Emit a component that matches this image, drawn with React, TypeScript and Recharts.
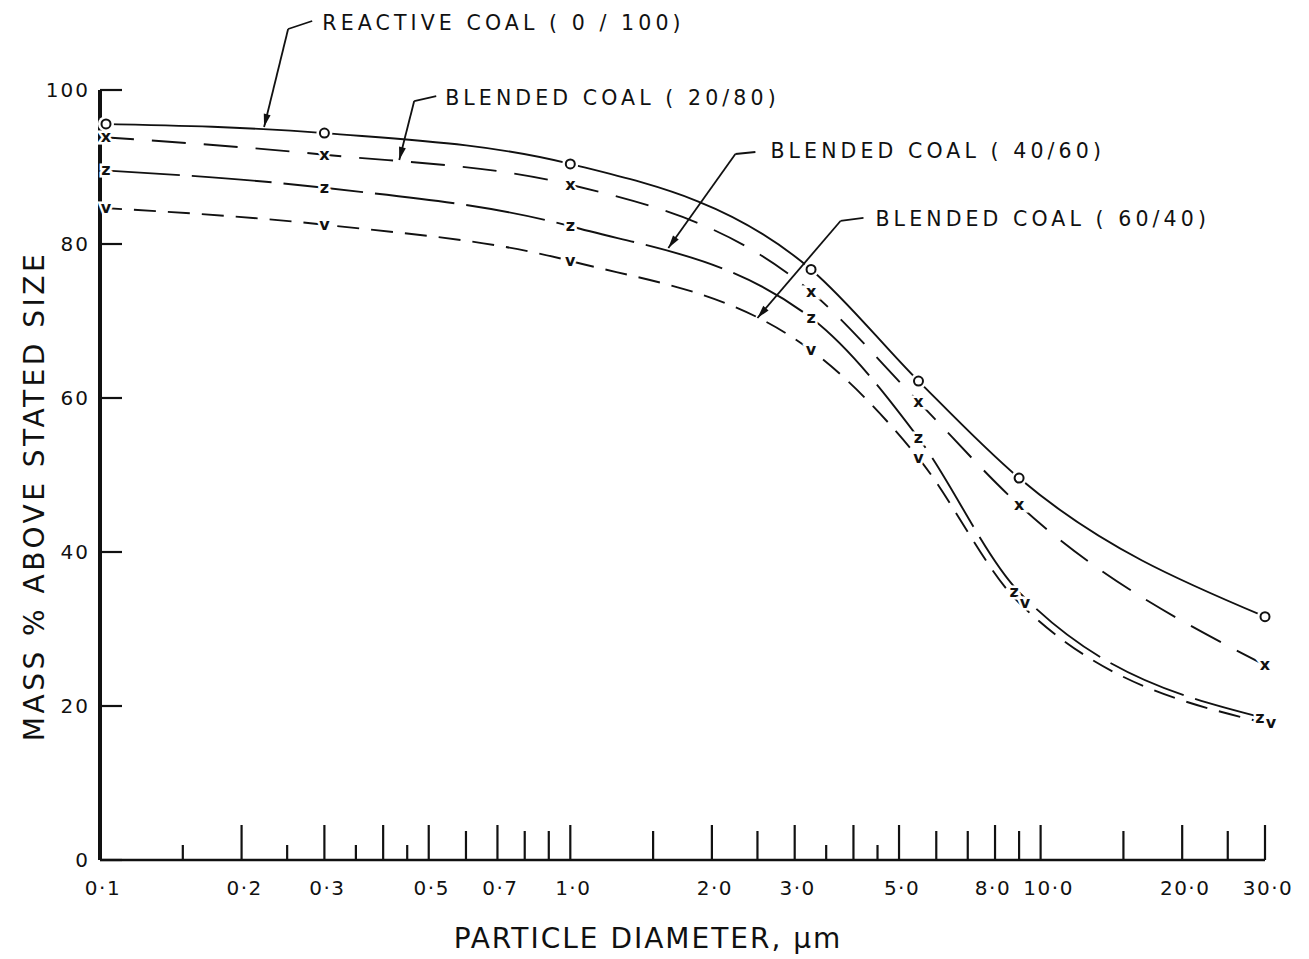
import React from 'react';
import { LineChart, Line, XAxis, YAxis, ReferenceLine, ReferenceDot } from 'recharts';

// particle diameter (µm) at the plotted points
const diameters = [0.1, 0.3, 1.0, 3.25, 5.5, 9.0, 30.0];

// mass % above stated size
const reactive0100 = [95.6, 94.4, 90.4, 76.7, 62.2, 49.6, 31.6];
const blend2080 = [93.9, 91.6, 87.7, 73.8, 59.5, 46.1, 25.3];
const blend4060 = [89.6, 87.3, 82.3, 70.4, 54.8, 34.8, 18.4];
const blend6040 = [84.7, 82.5, 77.8, 66.2, 52.2, 33.4, 17.8];

const labeledTicks = [0.1, 0.2, 0.3, 0.5, 0.7, 1, 2, 3, 5, 8, 10, 20, 30];
const tickLabels = ['0·1', '0·2', '0·3', '0·5', '0·7', '1·0', '2·0', '3·0', '5·0', '8·0', '10·0', '20·0', '30·0'];
const tallTicks = [0.4, 4];
const mediumTicks = [0.6, 0.8, 0.9, 1.5, 2.5, 6, 7, 9, 15, 25];
const shortTicks = [0.15, 0.25, 0.35, 0.45, 3.5, 4.5];
const yTicks = [0, 20, 40, 60, 80, 100];

const annotationLabels = [
  'REACTIVE COAL ( 0 / 100)',
  'BLENDED COAL ( 20/80)',
  'BLENDED COAL ( 40/60)',
  'BLENDED COAL ( 60/40)',
];
// [x, y] in data units
const annotationAt = [[0.297, 107.8], [0.542, 98.05], [2.664, 91.17], [4.455, 82.34]];
const leaderStart = [[0.2826, 108.96], [0.5187, 99.2], [2.475, 91.95], [4.201, 83.38]];
const leaderBend = [[0.2512, 107.92], [0.4657, 98.57], [2.244, 91.69], [3.754, 82.99]];
const leaderTip = [[0.2233, 95.2], [0.4328, 90.9], [1.616, 79.48], [2.5, 70.39]];

const data = diameters.map((d, i) => ({
  d,
  reactive: reactive0100[i],
  b2080: blend2080[i],
  b4060: blend4060[i],
  b6040: blend6040[i],
}));

const allTicks = [...labeledTicks, ...tallTicks, ...mediumTicks, ...shortTicks].sort((a, b) => a - b);
const INK = '#111';
const FONT = '"DejaVu Sans", Verdana, sans-serif';

function tickHeight(v: number) {
  if (labeledTicks.includes(v) || tallTicks.includes(v)) return 35;
  if (mediumTicks.includes(v)) return 29;
  return 15;
}

function XTick(props: any) {
  const { x, y, payload } = props;
  const v = payload.value;
  const idx = labeledTicks.indexOf(v);
  // the 10·0 label sits a little right of its tick in the original
  const shift = v === 10 ? 8 : v === 8 ? -2 : 3;
  return (
    <g>
      <line x1={x} y1={y} x2={x} y2={y - tickHeight(v)} stroke={INK} strokeWidth={2.2} />
      {idx >= 0 && (
        <text x={x + shift} y={y + 35} textAnchor="middle" fontSize={20} letterSpacing={1.5} fill={INK} fontFamily={FONT}>
          {tickLabels[idx]}
        </text>
      )}
    </g>
  );
}

function YTick(props: any) {
  const { x, y, payload } = props;
  return (
    <g>
      <line x1={x} y1={y} x2={x + 22} y2={y} stroke={INK} strokeWidth={2.2} />
      <text x={x - 10} y={y} dy={7} textAnchor="end" fontSize={20} letterSpacing={2} fill={INK} fontFamily={FONT}>
        {payload.value}
      </text>
    </g>
  );
}

function glyphDot(ch: string, nudge: number) {
  return (props: any) => {
    const { cx, cy, index } = props;
    if (cx == null || cy == null) return <g key={index} />;
    // first column sits just inside the axis; where z and v meet they are drawn side by side
    const ox = index === 0 ? 6 : index >= diameters.length - 2 ? nudge : 0;
    if (ch === 'o') {
      return (
        <g key={index}>
          <circle cx={cx + ox} cy={cy} r={8} fill="#fff" />
          <circle cx={cx + ox} cy={cy} r={4.5} fill="#fff" stroke={INK} strokeWidth={2} />
        </g>
      );
    }
    return (
      <text
        key={index}
        x={cx + ox}
        y={cy}
        dy={5}
        textAnchor="middle"
        fontSize={16}
        fontWeight="bold"
        fontFamily={FONT}
        fill={INK}
        stroke="#fff"
        strokeWidth={5}
        paintOrder="stroke"
      >
        {ch}
      </text>
    );
  };
}

function Leader(props: any) {
  const { x1, y1, x2, y2, arrow } = props;
  const ang = Math.atan2(y2 - y1, x2 - x1);
  const len = 13;
  const hw = 3.5;
  const bx = x2 - len * Math.cos(ang);
  const by = y2 - len * Math.sin(ang);
  const px = -Math.sin(ang) * hw;
  const py = Math.cos(ang) * hw;
  return (
    <g>
      <line x1={x1} y1={y1} x2={x2} y2={y2} stroke={INK} strokeWidth={1.8} />
      {arrow && <polygon points={`${x2},${y2} ${bx + px},${by + py} ${bx - px},${by - py}`} fill={INK} />}
    </g>
  );
}

function AnnotationText(label: string) {
  return (props: any) => (
    <text x={props.cx} y={props.cy} fontSize={20.5} letterSpacing={4.1} fill={INK} fontFamily={FONT}>
      {label}
    </text>
  );
}

export default function App() {
  return (
    <div style={{ position: 'absolute', left: 0, top: 0, width: 1309, height: 959, background: '#fff' }}>
      <LineChart width={1309} height={959} data={data} margin={{ top: 90, right: 44, bottom: 39, left: 40 }}>
        <XAxis
          dataKey="d"
          type="number"
          scale="log"
          domain={[0.1, 30]}
          ticks={allTicks}
          interval={0}
          height={60}
          tickSize={0}
          tickMargin={0}
          tickLine={false}
          axisLine={{ stroke: INK, strokeWidth: 2.5 }}
          tick={<XTick />}
          label={{
            content: (p: any) => {
              const vb = p.viewBox;
              return (
                <text x={vb.x + 548} y={vb.y + 88} textAnchor="middle" fontSize={28} letterSpacing={2} fill={INK} fontFamily={FONT}>
                  PARTICLE DIAMETER, µm
                </text>
              );
            },
          }}
        />
        <YAxis
          type="number"
          domain={[0, 100]}
          ticks={yTicks}
          interval={0}
          width={60}
          tickSize={0}
          tickMargin={0}
          tickLine={false}
          axisLine={{ stroke: INK, strokeWidth: 4 }}
          tick={<YTick />}
          label={{
            content: (p: any) => {
              const vb = p.viewBox;
              const cx = vb.x - 6;
              const cy = vb.y + 406;
              return (
                <text
                  x={cx}
                  y={cy}
                  dy={10}
                  transform={`rotate(-90, ${cx}, ${cy})`}
                  textAnchor="middle"
                  fontSize={28}
                  letterSpacing={3.5}
                  fill={INK}
                  fontFamily={FONT}
                >
                  MASS % ABOVE STATED SIZE
                </text>
              );
            },
          }}
        />
        <Line type="monotone" dataKey="reactive" stroke={INK} strokeWidth={1.9} dot={glyphDot('o', 0)} activeDot={false} isAnimationActive={false} />
        <Line type="monotone" dataKey="b2080" stroke={INK} strokeWidth={1.9} strokeDasharray="34 18" dot={glyphDot('x', 0)} activeDot={false} isAnimationActive={false} />
        <Line type="monotone" dataKey="b4060" stroke={INK} strokeWidth={1.9} strokeDasharray="80 12" dot={glyphDot('z', -5)} activeDot={false} isAnimationActive={false} />
        <Line type="monotone" dataKey="b6040" stroke={INK} strokeWidth={1.9} strokeDasharray="22 12" dot={glyphDot('v', 6)} activeDot={false} isAnimationActive={false} />
        {annotationLabels.map((label, i) => (
          <ReferenceLine
            key={`ls${i}`}
            segment={[
              { x: leaderStart[i][0], y: leaderStart[i][1] },
              { x: leaderBend[i][0], y: leaderBend[i][1] },
            ]}
            ifOverflow="visible"
            shape={(p: any) => <Leader {...p} />}
          />
        ))}
        {annotationLabels.map((label, i) => (
          <ReferenceLine
            key={`lt${i}`}
            segment={[
              { x: leaderBend[i][0], y: leaderBend[i][1] },
              { x: leaderTip[i][0], y: leaderTip[i][1] },
            ]}
            ifOverflow="visible"
            shape={(p: any) => <Leader {...p} arrow />}
          />
        ))}
        {annotationLabels.map((label, i) => (
          <ReferenceDot
            key={`lb${i}`}
            x={annotationAt[i][0]}
            y={annotationAt[i][1]}
            r={0}
            ifOverflow="visible"
            shape={AnnotationText(label)}
          />
        ))}
      </LineChart>
    </div>
  );
}
